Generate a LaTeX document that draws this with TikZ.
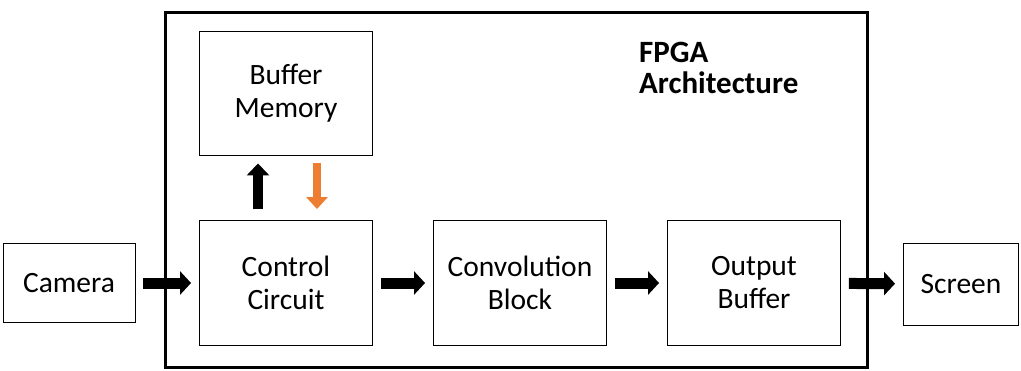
\documentclass[tikz,border=0pt]{standalone}
\usepackage{fontspec}
\setmainfont{Carlito}
\usetikzlibrary{arrows.meta,positioning}
\definecolor{darrow}{RGB}{237,125,49}

\begin{document}
\begin{tikzpicture}[x=1pt,y=-1pt,
  block/.style={draw,line width=0.9pt,inner sep=0pt,align=center,
    font=\fontsize{29.5}{33}\selectfont,minimum width=173pt,minimum height=125pt},
  flow/.style={line width=11pt,-{Triangle[length=11pt,width=23pt]},
    shorten <=8pt,shorten >=8pt}]
\useasboundingbox (0,0) rectangle (1021,370);

\node[draw,line width=3pt,minimum width=702pt,minimum height=355pt,inner sep=0pt] (fpga) at (516,189.5) {};
\node[anchor=base west,align=left,inner sep=0pt,font=\fontsize{31}{31}\selectfont\bfseries] (title) at (639,93) {FPGA\\Architecture};

\node[block,minimum width=132pt,minimum height=79pt] (cam) at (69,283) {Camera};
\node[block] (ctrl) at (286,283) {Control\\Circuit};
\node[block] (conv) at (520,283) {Convolution\\Block};
\node[block] (outb) at (754,283) {Output\\Buffer};
\node[block,minimum width=115pt,minimum height=82pt] (scr) at (961,284) {Screen};
\node[block,minimum height=124pt] (buf) at (286,93) {Buffer\\Memory};

\draw[flow] (cam) -- (ctrl);
\draw[flow] (ctrl) -- (conv);
\draw[flow] (conv) -- (outb);
\draw[flow] (outb) -- (scr);

\draw[line width=10pt,-{Triangle[length=12pt,width=22pt]},shorten <=11pt,shorten >=8pt]
  ([xshift=-28pt]ctrl.north) -- ([xshift=-28pt]buf.south);
\draw[darrow,line width=8pt,-{Triangle[length=12pt,width=21pt]},shorten <=8pt,shorten >=11pt]
  ([xshift=31pt]buf.south) -- ([xshift=31pt]ctrl.north);

\end{tikzpicture}
\end{document}
